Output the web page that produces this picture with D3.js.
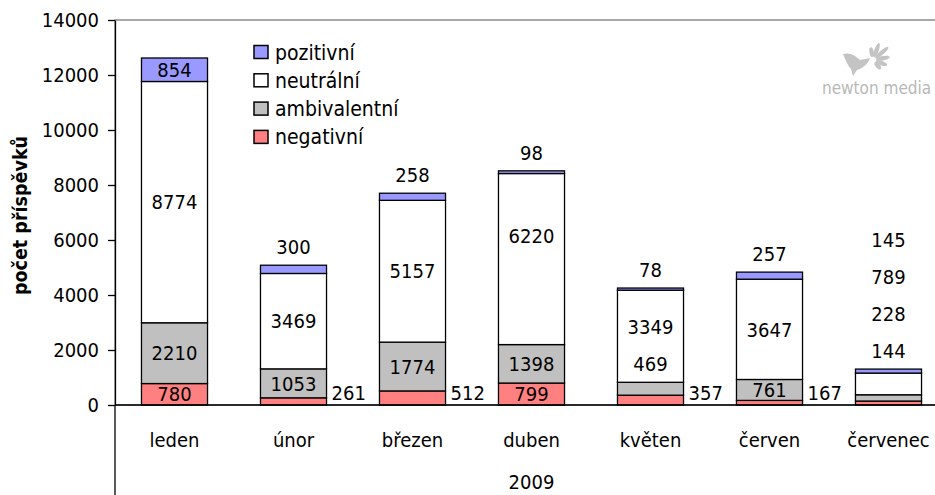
<!DOCTYPE html>
<html lang="cs">
<head>
<meta charset="utf-8">
<script src="https://cdn.jsdelivr.net/npm/d3@7"></script>
<style>
  html, body { margin: 0; padding: 0; background: #fff; }
  svg { display: block; }
  text { font-family: 'DejaVu Sans Condensed', 'DejaVu Sans', sans-serif; font-stretch: condensed; fill: #000; }
</style>
</head>
<body>
<script>
// Monthly counts of posts by sentiment, 2009
const months = ["leden", "únor", "březen", "duben", "květen", "červen", "červenec"];
const negativni    = [780, 261, 512, 799, 357, 167, 144];
const ambivalentni = [2210, 1053, 1774, 1398, 469, 761, 228];
const neutralni    = [8774, 3469, 5157, 6220, 3349, 3647, 789];
const pozitivni    = [854, 300, 258, 98, 78, 257, 145];
const seriesNames  = ["negativní", "ambivalentní", "neutrální", "pozitivní"];
const seriesColors = ["#ff8080", "#c0c0c0", "#ffffff", "#9999ff"];
const yTicks = [0, 2000, 4000, 6000, 8000, 10000, 12000, 14000];
const yearLabel = "2009";
const yTitle = "počet příspěvků";

const W = 935, H = 495;
const plot = { left: 115, top: 20, right: 948, bottom: 405 };

const svg = d3.select("body").append("svg").attr("width", W).attr("height", H);

const rows = months.map((m, i) => ({
  month: m,
  "negativní": negativni[i],
  "ambivalentní": ambivalentni[i],
  "neutrální": neutralni[i],
  "pozitivní": pozitivni[i]
}));
const stacked = d3.stack().keys(seriesNames)(rows);

const x = d3.scaleBand().domain(months)
  .range([plot.left, plot.right]).paddingInner(0.445).paddingOuter(0.2225);
const y = d3.scaleLinear().domain([0, 14000]).range([plot.bottom, plot.top]);

// plot area frame (only the top edge falls inside the canvas)
svg.append("rect")
  .attr("x", plot.left).attr("y", plot.top)
  .attr("width", plot.right - plot.left).attr("height", plot.bottom - plot.top)
  .attr("fill", "none").attr("stroke", "#8c8c8c").attr("stroke-width", 1.5);

// stacked columns
const layer = svg.append("g").selectAll("g").data(stacked).join("g")
  .attr("fill", (d, i) => seriesColors[i]);
layer.selectAll("rect").data(d => d).join("rect")
  .attr("x", d => x(d.data.month))
  .attr("y", d => y(d[1]))
  .attr("width", x.bandwidth())
  .attr("height", d => y(d[0]) - y(d[1]))
  .attr("stroke", "#000").attr("stroke-width", 1.3);

// value axis
const yAxis = svg.append("g").attr("transform", `translate(${plot.left},0)`)
  .call(d3.axisLeft(y).tickValues(yTicks).tickFormat(d3.format("d"))
    .tickSize(7).tickSizeOuter(0).tickPadding(9));
yAxis.select(".domain").attr("stroke", "#000").attr("stroke-width", 1.3);
yAxis.selectAll(".tick line").attr("stroke", "#000").attr("stroke-width", 1.3);
yAxis.selectAll(".tick text").attr("font-size", 20)
  .attr("font-family", "'DejaVu Sans Condensed', 'DejaVu Sans', sans-serif");

// category axis line and the left edge of the grouped axis
svg.append("line").attr("x1", plot.left).attr("x2", plot.right)
  .attr("y1", plot.bottom).attr("y2", plot.bottom)
  .attr("stroke", "#000").attr("stroke-width", 1.3);
svg.append("line").attr("x1", plot.left).attr("x2", plot.left)
  .attr("y1", plot.bottom).attr("y2", H)
  .attr("stroke", "#000").attr("stroke-width", 1.3);

svg.append("g").selectAll("text").data(months).join("text")
  .attr("x", d => x(d) + x.bandwidth() / 2).attr("y", 447)
  .attr("text-anchor", "middle").attr("font-size", 20).text(d => d);
svg.append("text").attr("x", (plot.left + plot.right) / 2).attr("y", 489)
  .attr("text-anchor", "middle").attr("font-size", 20).text(yearLabel);

// axis title
svg.append("text")
  .attr("transform", `translate(27,${(plot.top + plot.bottom) / 2 + 3}) rotate(-90)`)
  .attr("text-anchor", "middle").attr("font-size", 19.5).attr("font-weight", "bold")
  .text(yTitle);

// legend
const legendOrder = [3, 2, 1, 0];
const lg = svg.append("g").selectAll("g").data(legendOrder).join("g")
  .attr("transform", (d, i) => `translate(254,${52 + i * 28.3})`);
lg.append("rect").attr("x", 0).attr("y", -6.5).attr("width", 14).attr("height", 13)
  .attr("fill", d => seriesColors[d]).attr("stroke", "#000").attr("stroke-width", 1.5);
lg.append("text").attr("x", 21).attr("dy", "0.36em").attr("font-size", 21)
  .text(d => seriesNames[d]);

// data labels: centred in a segment when it fits, otherwise moved beside or above the column
const FIT = 18, ABOVE = 18, GAP = 26, LIFT_GAP = 37;
const labelNudge = { "duben|neutrální": -23 };
const measure = svg.append("text").attr("font-size", 20).attr("visibility", "hidden");
const textWidth = s => { measure.text(s); return measure.node().getComputedTextLength(); };

const labelG = svg.append("g").attr("font-size", 20);
months.forEach((m, i) => {
  const x0 = x(m), bw = x.bandwidth(), cx = x0 + bw / 2;
  const top = y(stacked[stacked.length - 1][i][1]);
  let prev = null;
  stacked.forEach((s, si) => {
    const d = s[i], v = d[1] - d[0];
    const yb = y(d[0]), yt = y(d[1]), h = yb - yt;
    const txt = String(v);
    const lab = { x: cx, anchor: "middle", lifted: false };
    if (h >= FIT) {
      lab.y = (yb + yt) / 2;
    } else if (si === 0 && x0 + bw + 5 + textWidth(txt) <= W) {
      labelG.append("text").attr("x", x0 + bw + 5).attr("y", y(0) - 12)
        .attr("dy", "0.36em").attr("text-anchor", "start").text(txt);
      return;
    } else {
      lab.lifted = true;
      lab.y = (si === 0 || si === stacked.length - 1) ? top - ABOVE : yt - ABOVE;
    }
    if (prev) {
      const g = prev.lifted ? LIFT_GAP : GAP;
      if (lab.y > prev.y - g) { lab.y = prev.y - g; lab.lifted = true; }
    }
    lab.y += labelNudge[m + "|" + s.key] || 0;
    labelG.append("text").attr("x", lab.x).attr("y", lab.y)
      .attr("dy", "0.36em").attr("text-anchor", lab.anchor).text(txt);
    prev = lab;
  });
});
measure.remove();

// publisher mark: bird with a burst of petals, and the wordmark
const logo = svg.append("g").attr("fill", "#c4c4c4");
logo.append("path")
  .attr("d", "M843,54 C850,52 856,56 860,60 L870,58 C868,64 863,68 857,70 L853,76 L851,69 C848,66 846,61 843,54 Z");
const burst = { x: 873, y: 60 };
[[-100, 10], [-70, 15], [-40, 17], [-10, 14], [20, 12], [50, 9]].forEach(([a, len]) => {
  const r = a * Math.PI / 180;
  const cx = burst.x + Math.cos(r) * (len / 2 + 3);
  const cy = burst.y + Math.sin(r) * (len / 2 + 3);
  logo.append("ellipse").attr("cx", cx).attr("cy", cy)
    .attr("rx", len / 2).attr("ry", 2.2)
    .attr("transform", `rotate(${a},${cx},${cy})`);
});
svg.append("text").attr("x", 822).attr("y", 94).attr("font-size", 17)
  .style("fill", "#b8b8b8").attr("font-weight", 300)
  .attr("font-family", "'Liberation Sans Narrow', 'DejaVu Sans Condensed', sans-serif")
  .style("font-stretch", "condensed")
  .text("newton media");
</script>
</body>
</html>
